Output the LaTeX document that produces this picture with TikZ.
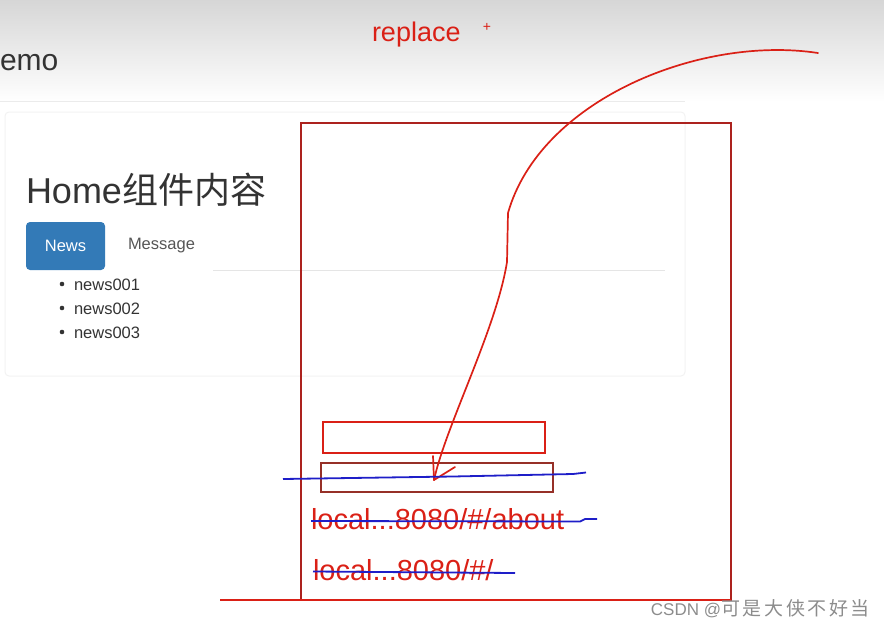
\documentclass[tikz,border=0pt]{standalone}
\usepackage{fontspec}
\setmainfont{Liberation Sans}
\newfontfamily\cjk{Noto Sans CJK SC}
\newfontfamily\cjkwide[LetterSpace=14]{Noto Sans CJK SC}
\usetikzlibrary{positioning}
\definecolor{ink}{RGB}{51,51,51}
\definecolor{tabgray}{RGB}{85,85,85}
\definecolor{btnblue}{RGB}{51,122,183}
\definecolor{pen}{RGB}{218,32,22}
\definecolor{penbox}{RGB}{172,34,30}
\definecolor{pendark}{RGB}{150,48,40}
\definecolor{bluepen}{RGB}{30,30,200}

\begin{document}
\begin{tikzpicture}[
    x=1pt, y=-1pt,
    every node/.style  = {inner sep=0pt, outer sep=0pt},
    pagetext/.style    = {text=ink, font=\fontsize{16.5}{16.5}\selectfont, anchor=base west},
    tabbtn/.style      = {rectangle, rounded corners=4pt, fill=btnblue, text=white,
                          minimum width=79pt, minimum height=48pt,
                          font=\fontsize{16.5}{16.5}\selectfont},
    redbox/.style      = {rectangle, draw=pen, line width=1.8pt},
    redtext/.style     = {text=pen, font=\fontsize{29}{29}\selectfont, anchor=base west},
    strike/.style      = {draw=bluepen, line width=1.8pt, line join=round},
]
    \useasboundingbox (0,0) rectangle (884,629);
    %Page background
    \shade[top color=black!16, bottom color=white] (0,0) rectangle (884,102);
    \draw[black!8, line width=1pt] (0,101) -- (685,101);
    \draw[black!5, line width=1pt, rounded corners=4pt] (5,112) rectangle (685,376);

    %Page texts
    \node[text=ink, font=\fontsize{30}{30}\selectfont, anchor=base west] (brand) at (0,70) {emo};
    \node[text=ink, font=\fontsize{36}{36}\selectfont, anchor=base west] (title) at (26,203) {Home{\cjk 组件内容}};
    \node[tabbtn]                        (newsbtn)    at (65.5,246)  {News};
    \node[text=tabgray, font=\fontsize{16.5}{16.5}\selectfont, anchor=west]
                                         (msgtab)     [right=23pt of newsbtn] {Message};
    \draw[black!10, line width=1pt] (213,270) -- (665,270);

    %List
    \node[pagetext] (news1) at (74,290) {news001};
    \node[pagetext] (news2) [below=24pt of news1.base west, anchor=base west] {news002};
    \node[pagetext] (news3) [below=24pt of news2.base west, anchor=base west] {news003};
    \foreach \n in {1,2,3}
        \fill[ink] ([xshift=-12pt, yshift=6pt]news\n.base west) circle (2.3pt);

    %Sketch
    \node[redbox, draw=penbox, minimum width=430pt, minimum height=477pt] (page)  at (516,361.5) {};
    \node[redbox, minimum width=222pt, minimum height=31pt]              (slot1) at (434,437.5) {};
    \node[redbox, draw=pendark, minimum width=232pt, minimum height=29pt] (slot2) at (437,477.5) {};
    \draw[pen, line width=2.6pt] (220,600) -- (page.south east);

    \node[text=pen, font=\fontsize{27}{27}\selectfont, anchor=base west] (replace) at (372,41) {replace};
    \node[text=pen, font=\fontsize{14}{14}\selectfont] (plus) at (487,27) {+};

    \node[redtext] (about) at (311,529) {local...8080/\#/about};
    \node[redtext] (home)  at (313,580) {local...8080/\#/};

    %Lines
    \coordinate (tail) at (818,53);
    \coordinate (bend) at (508,213);
    \coordinate (tip)  at (434,480);
    \draw[pen, line width=1.7pt, line cap=round, line join=round]
        (tail) .. controls (700,35) and (540,100) .. (bend)
               -- (507,262)
               .. controls (496,330) and (446,425) .. (tip);
    \draw[pen, line width=1.7pt, line cap=round] (tip) -- ++(-1,-24);
    \draw[pen, line width=1.7pt, line cap=round] (tip) -- ++(21,-13);

    \coordinate (cut1a) at (283,479);
    \coordinate (cut1b) at (586,472.5);
    \draw[strike] (cut1a) -- (385,477.5) -- (453,476.5) -- (573,474) -- (cut1b);
    \coordinate (cut2b) at (597,519);
    \draw[strike] (about.west |- 0,521) -- (580,521.5) -- (585,519) -- (cut2b);
    \coordinate (cut3b) at (515,573);
    \draw[strike] (home.west |- 0,571.5) -- (cut3b);

    %Watermark
    \node[text=black!45, font=\fontsize{17}{17}\selectfont, anchor=base east] (mark) at (870,615)
        {CSDN @{\cjkwide\fontsize{19}{19}\selectfont 可是大侠不好当}};
\end{tikzpicture}
\end{document}
